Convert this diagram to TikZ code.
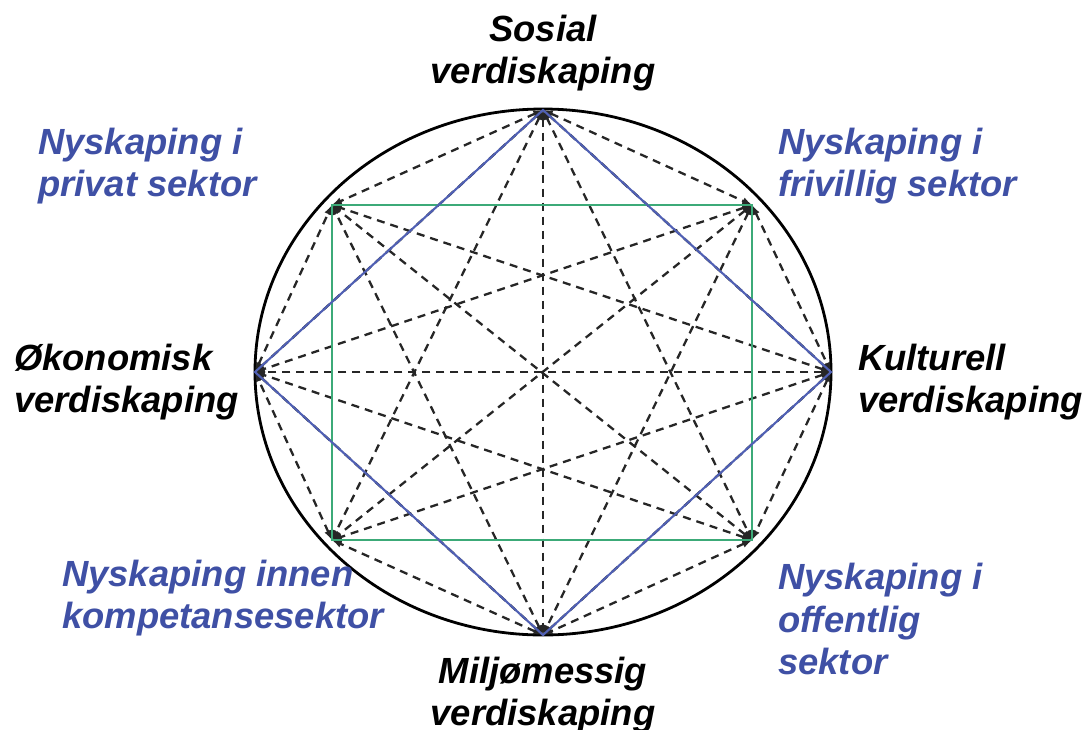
\documentclass[tikz,border=0pt]{standalone}
\usepackage{fontspec}
\setmainfont{Liberation Sans}
\definecolor{tekstblaa}{RGB}{63,80,165}
\definecolor{linjeblaa}{RGB}{80,96,180}
\definecolor{linjegroenn}{RGB}{60,170,120}
\begin{document}
\begin{tikzpicture}[x=1pt, y=-1pt]
			\tikzset{etikett/.style={anchor=west, align=left, inner sep=0pt, font=\fontsize{36.4}{42.5}\selectfont\bfseries\itshape},
				midtetikett/.style={etikett, anchor=center, align=center},
				pil/.style={>=latex, <->, dash pattern=on 8pt off 6pt, line width=2.3pt, black!85},
				rombe/.style={line width=2.1pt, linjeblaa},
				rektangel/.style={line width=2.1pt, linjegroenn}};

			\useasboundingbox (0,0) rectangle (1083,729);

			\coordinate (s)  at ( 543,  110);
			\coordinate (fr) at ( 752,  205);
			\coordinate (k)  at ( 831,  372);
			\coordinate (of) at ( 752,  540);
			\coordinate (m)  at ( 543,  635);
			\coordinate (ko) at ( 332,  540);
			\coordinate (o)  at ( 255,  372);
			\coordinate (pr) at ( 332,  205);
			\coordinate (c)  at ( 543,  372);

			\draw[line width=2.8pt] (c) ellipse [x radius=288, y radius=263];

			\draw[pil] (s) -- (fr);
			\draw[pil] (s) -- (k);
			\draw[pil] (s) -- (of);
			\draw[pil] (s) -- (m);
			\draw[pil] (s) -- (ko);
			\draw[pil] (s) -- (o);
			\draw[pil] (s) -- (pr);
			\draw[pil] (fr) -- (k);
			\draw[pil] (fr) -- (of);
			\draw[pil] (fr) -- (m);
			\draw[pil] (fr) -- (ko);
			\draw[pil] (fr) -- (o);
			\draw[pil] (fr) -- (pr);
			\draw[pil] (k) -- (of);
			\draw[pil] (k) -- (m);
			\draw[pil] (k) -- (ko);
			\draw[pil] (k) -- (o);
			\draw[pil] (k) -- (pr);
			\draw[pil] (of) -- (m);
			\draw[pil] (of) -- (ko);
			\draw[pil] (of) -- (o);
			\draw[pil] (of) -- (pr);
			\draw[pil] (m) -- (ko);
			\draw[pil] (m) -- (o);
			\draw[pil] (m) -- (pr);
			\draw[pil] (ko) -- (o);
			\draw[pil] (ko) -- (pr);
			\draw[pil] (o) -- (pr);

			\draw[rektangel] (pr) -- (fr) -- (of) -- (ko) -- cycle;
			\draw[rombe] (s) -- (k) -- (m) -- (o) -- cycle;

			\node[midtetikett] (sosial)   at ( 543,   53) {Sosial\\verdiskaping};
			\node[midtetikett] (miljo)    at ( 543,  695) {Miljømessig\\verdiskaping};
			\node[etikett] (okonomisk)    at (  14,  382) {Økonomisk\\verdiskaping};
			\node[etikett] (kulturell)    at ( 858,  382) {Kulturell\\verdiskaping};
			\node[etikett, tekstblaa] (privat)     at (  38,  166) {Nyskaping i\\privat sektor};
			\node[etikett, tekstblaa] (frivillig)  at ( 778,  166) {Nyskaping i\\frivillig sektor};
			\node[etikett, tekstblaa] (kompetanse) at (  62,  598) {Nyskaping innen\\kompetansesektor};
			\node[etikett, tekstblaa] (offentlig)  at ( 778,  619) {Nyskaping i\\offentlig\\sektor};
		\end{tikzpicture}
\end{document}
